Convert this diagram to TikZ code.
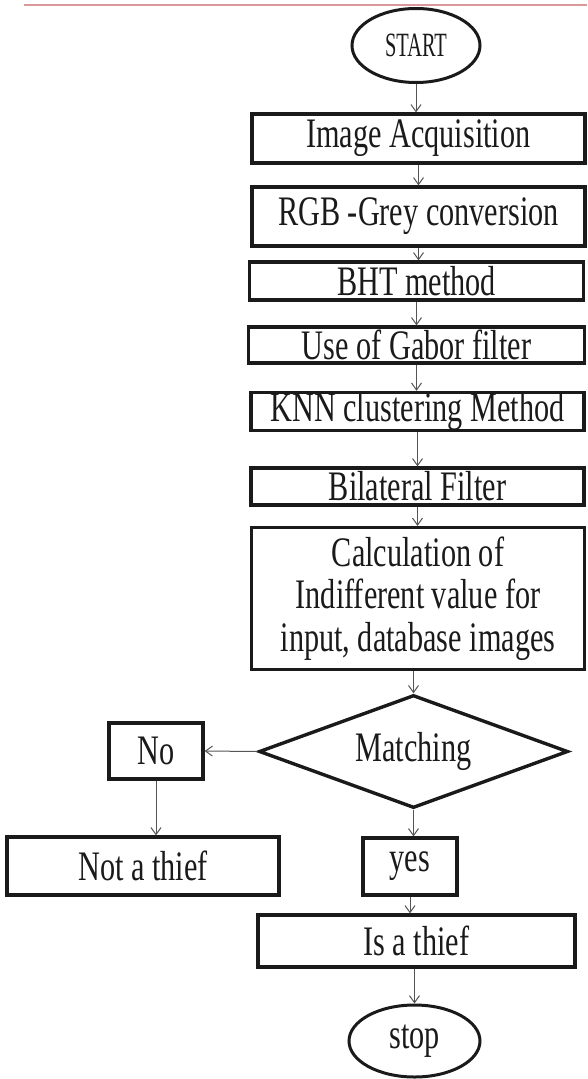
\documentclass[tikz,border=0pt]{standalone}
\usepackage{fontspec}
\setmainfont{Liberation Serif}[FakeStretch=0.72]
\newfontfamily\startfont{Liberation Serif}[FakeStretch=0.6]
\usetikzlibrary{arrows.meta,shapes.geometric}
\definecolor{pagerule}{HTML}{D9999B}
\definecolor{ink}{HTML}{1A1A1A}
\definecolor{wire}{HTML}{555555}

\begin{document}
\begin{tikzpicture}[x=1pt, y=-1pt,
  stepbox/.style={draw=ink, line width=3.2pt, inner sep=0pt, text=ink, align=center, font=\fontsize{42}{42.5}\selectfont},
  term/.style={ellipse, draw=ink, line width=3pt, inner sep=0pt, text=ink},
  decide/.style={diamond, draw=ink, line width=3.4pt, inner sep=0pt, shape aspect=2.7, text=ink, font=\fontsize{42}{42.5}\selectfont},
  arr/.style={wire, line width=1pt, -{Straight Barb[length=7pt, width=10pt]}}
]
  \useasboundingbox (0,0) rectangle (587,1079);

  % Rule at the top of the page
  \draw[pagerule, line width=2pt] (24,5) -- (587,5);

  % Main column
  \node[term, minimum width=128pt, minimum height=74pt, font=\startfont\fontsize{34}{34}\selectfont] (start) at (416,45.5) {START};
  \node[stepbox, minimum width=333pt, minimum height=49pt] (acq) at (418.5,138.5) {Image Acquisition};
  \node[stepbox, minimum width=333pt, minimum height=59pt] (rgb) at (418.5,216.5) {RGB -Grey conversion};
  \node[stepbox, minimum width=334pt, minimum height=38pt] (bht) at (416.5,281) {BHT method};
  \node[stepbox, minimum width=336pt, minimum height=36pt] (gabor) at (416.5,345) {Use of Gabor filter};
  \node[stepbox, minimum width=333pt, minimum height=37pt] (knn) at (417.5,411.5) {KNN clustering Method};
  \node[stepbox, minimum width=333pt, minimum height=37pt] (bil) at (417.5,486.5) {Bilateral Filter};
  \node[stepbox, minimum width=333pt, minimum height=142pt] (calc) at (418,598.5) {Calculation of\\Indifferent value for\\input, database images};

  % Decision and its two branches
  \node[decide, minimum width=309pt, minimum height=113pt] (match) at (413.5,751.5) {Matching};
  \node[stepbox, minimum width=94pt, minimum height=56pt] (no) at (156,751) {No};
  \node[stepbox, minimum width=272pt, minimum height=58pt] (notthief) at (143,866) {Not a thief};
  \node[stepbox, minimum width=94pt, minimum height=57pt] (yes) at (410,866.5) {yes};
  \node[stepbox, minimum width=317pt, minimum height=52pt] (thief) at (416.5,941) {Is a thief};
  \node[term, minimum width=131pt, minimum height=72pt, font=\fontsize{42}{42}\selectfont] (stop) at (414.5,1041) {stop};

  % Arrows
  \draw[arr] (start.south) -- (start.south |- acq.north);
  \foreach \a/\b in {acq/rgb, rgb/bht, bht/gabor, gabor/knn, knn/bil, bil/calc}
    \draw[arr] (\a.south) -- (\a.south |- \b.north);
  \draw[arr] (match.north |- calc.south) -- (match.north);
  \draw[arr] (match.west) -- (no.east);
  \draw[arr] (no.south) -- (no.south |- notthief.north);
  \draw[arr] (match.south) -- (match.south |- yes.north);
  \draw[arr] (yes.south) -- (yes.south |- thief.north);
  \draw[arr] (stop.north |- thief.south) -- (stop.north);
\end{tikzpicture}
\end{document}
